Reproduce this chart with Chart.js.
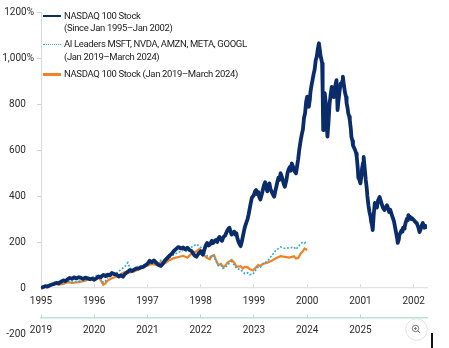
<!DOCTYPE html>
<html>
<head>
<meta charset="utf-8">
<script src="https://cdn.jsdelivr.net/npm/chart.js@4/dist/chart.umd.min.js"></script>
<style>
  html, body { margin: 0; padding: 0; background: #fff; }
  #wrap { position: relative; width: 449px; height: 348px; overflow: hidden; }
  canvas { position: absolute; left: 0; top: 0; }
  .lg { position: absolute; font-family: Roboto, sans-serif; font-size: 9.5px; letter-spacing: -0.35px; color: #222; line-height: 12.5px; white-space: nowrap; }
  .sw { position: absolute; left: 43px; width: 18px; }
  #zoomBtn { position: absolute; left: 405px; top: 318px; }
  #cursor { position: absolute; left: 431px; top: 333px; width: 1.5px; height: 15px; background: #111; }
</style>
</head>
<body>
<div id="wrap">
  <canvas id="c" width="449" height="348"></canvas>
  <div class="sw" style="top:14.5px;height:2.5px;background:#0b2c6b"></div>
  <div class="lg" style="left:64px;top:9.5px">NASDAQ 100 Stock<br>(Since Jan 1995–Jan 2002)</div>
  <div class="sw" style="top:43.5px;height:0;border-top:1.5px dotted #35a9d6"></div>
  <div class="lg" style="left:64px;top:38px">AI Leaders MSFT, NVDA, AMZN, META, GOOGL<br>(Jan 2019–March 2024)</div>
  <div class="sw" style="top:73px;height:2.5px;background:#f28024"></div>
  <div class="lg" style="left:64px;top:68px">NASDAQ 100 Stock (Jan 2019–March 2024)</div>
  <svg id="zoomBtn" width="23" height="23" viewBox="0 0 23 23">
    <circle cx="11.5" cy="11.5" r="10.8" fill="#fff" stroke="#e2e2e2" stroke-width="1"/>
    <circle cx="10.5" cy="10.5" r="3.2" fill="none" stroke="#666" stroke-width="0.9"/>
    <line x1="12.8" y1="12.8" x2="15" y2="15" stroke="#666" stroke-width="1"/>
    <line x1="9" y1="10.5" x2="12" y2="10.5" stroke="#666" stroke-width="0.8"/>
    <line x1="10.5" y1="9" x2="10.5" y2="12" stroke="#666" stroke-width="0.8"/>
  </svg>
  <div id="cursor"></div>
</div>
<script>
// ---- Tick labels ----
const topYears = [1995, 1996, 1997, 1998, 1999, 2000, 2001, 2002];
const bottomYears = [2019, 2020, 2021, 2022, 2023, 2024, 2025];
const yTickValues = [-200, 0, 200, 400, 600, 800, 1000, 1200];
const yTickLabels = ['-200', '0', '200', '400', '600', '800', '1,000%', '1200%'];

// ---- NASDAQ 100, Jan 1995 – early 2002 (cumulative % return) ----
const nasdaqYears = [
  1995.00,1995.04,1995.08,1995.12,1995.17,1995.21,1995.25,1995.29,1995.33,1995.38,1995.42,1995.46,1995.50,1995.54,1995.58,1995.62,1995.67,1995.71,1995.75,1995.79,1995.83,1995.88,1995.92,1995.96,
  1996.00,1996.04,1996.08,1996.12,1996.17,1996.21,1996.25,1996.29,1996.33,1996.38,1996.42,1996.46,1996.50,1996.54,1996.58,1996.63,1996.67,1996.71,1996.75,1996.79,1996.83,1996.88,1996.92,1996.96,
  1997.00,1997.04,1997.08,1997.12,1997.17,1997.21,1997.25,1997.29,1997.33,1997.38,1997.42,1997.46,1997.50,1997.54,1997.58,1997.63,1997.67,1997.71,1997.75,1997.79,1997.83,1997.88,1997.92,1997.96,
  1998.00,1998.02,1998.04,1998.06,1998.08,1998.10,1998.12,1998.15,1998.17,1998.19,1998.21,1998.23,1998.25,1998.27,1998.29,1998.31,1998.33,1998.35,1998.38,1998.40,
  1998.42,1998.44,1998.46,1998.48,1998.50,1998.52,1998.54,1998.56,1998.58,1998.60,1998.63,1998.65,1998.67,1998.69,1998.71,1998.73,1998.75,1998.77,1998.79,1998.81,
  1998.83,1998.85,1998.88,1998.90,1998.92,1998.94,1998.96,1998.98,
  1999.00,1999.02,1999.04,1999.06,1999.08,1999.10,1999.12,1999.15,1999.17,1999.19,1999.21,1999.23,1999.25,1999.27,1999.29,1999.31,1999.33,1999.36,1999.38,1999.40,
  1999.42,1999.44,1999.46,1999.48,1999.50,1999.52,1999.54,1999.56,1999.58,1999.61,1999.63,1999.65,1999.67,1999.69,1999.71,1999.73,1999.75,1999.77,1999.79,1999.81,
  1999.83,1999.85,1999.88,1999.90,1999.92,1999.94,1999.96,1999.98,
  2000.00,2000.02,2000.03,2000.05,2000.06,2000.08,2000.10,2000.12,2000.14,2000.16,2000.18,2000.20,2000.22,2000.24,2000.25,2000.27,2000.28,2000.29,2000.30,2000.31,
  2000.33,2000.35,2000.36,2000.37,2000.38,2000.40,2000.42,2000.44,2000.46,2000.48,2000.50,2000.52,2000.55,2000.56,2000.57,2000.59,2000.61,2000.63,2000.64,2000.66,
  2000.67,2000.69,2000.71,2000.73,2000.74,2000.76,2000.77,2000.79,2000.80,2000.82,2000.83,2000.85,2000.86,2000.88,2000.90,2000.92,2000.93,2000.95,2000.96,2000.98,
  2001.00,2001.02,2001.03,2001.05,2001.06,2001.08,2001.10,2001.12,2001.13,2001.15,2001.17,2001.19,2001.20,2001.22,2001.23,2001.25,2001.27,2001.29,2001.31,2001.33,
  2001.36,2001.38,2001.40,2001.42,2001.45,2001.47,2001.50,2001.52,2001.54,2001.56,2001.58,2001.60,2001.63,2001.65,2001.67,2001.69,2001.70,2001.72,2001.73,2001.75,
  2001.77,2001.79,2001.80,2001.82,2001.83,2001.85,2001.87,2001.89,2001.90,2001.92,2001.93,2001.95,2001.96,2001.98,
  2002.00,2002.02,2002.03,2002.05,2002.06,2002.08,2002.09,2002.11,2002.13,2002.14,2002.16,2002.17,2002.19,2002.20,2002.22,2002.24
];
const nasdaqPct = [
  0,4,8,6,12,15,18,22,20,28,33,30,38,44,40,46,42,47,44,40,45,42,38,41,
  36,42,50,47,57,52,58,55,65,60,58,50,55,49,62,70,78,74,80,85,84,90,92,98,
  105,118,112,120,108,100,96,106,120,132,142,150,162,170,178,172,176,168,175,165,160,142,136,150,
  160,150,145,160,175,188,196,185,188,198,205,195,200,206,209,200,215,222,210,205,
  218,225,228,240,250,258,262,245,232,240,245,232,238,215,200,190,182,200,222,245,
  265,280,300,320,345,370,392,398,
  405,420,426,408,418,395,385,410,430,448,460,438,420,440,455,430,420,405,397,420,
  440,462,480,470,499,485,470,452,440,470,500,515,525,510,542,530,515,505,499,530,
  560,600,645,670,690,740,760,810,
  832,810,788,820,850,880,904,930,950,990,1006,1040,1064,1030,1010,990,977,860,687,760,
  847,800,760,700,658,720,800,840,874,850,830,870,904,850,774,820,860,890,880,900,
  919,880,850,830,804,780,760,745,730,690,658,640,620,610,600,585,570,520,480,470,
  455,490,520,545,570,520,470,430,400,360,330,310,290,270,252,320,370,355,350,380,
  396,380,365,350,339,350,360,345,330,340,325,310,290,265,240,215,196,210,230,240,
  250,245,262,258,265,285,300,295,317,305,310,300,305,300,
  296,290,288,282,280,268,262,243,255,265,278,283,270,262,270,257
];

// ---- Jan 2019 – March 2024 (cumulative % return) ----
const recentYears = [
  2019.00,2019.08,2019.17,2019.25,2019.33,2019.42,2019.50,2019.58,2019.67,2019.75,2019.83,2019.92,
  2020.00,2020.08,2020.12,2020.17,2020.21,2020.25,2020.33,2020.42,2020.50,2020.58,2020.63,2020.67,2020.75,2020.83,2020.92,
  2021.00,2021.08,2021.17,2021.25,2021.33,2021.42,2021.50,2021.58,2021.67,2021.75,2021.83,2021.92,2021.98,
  2022.04,2022.08,2022.12,2022.17,2022.21,2022.25,2022.29,2022.33,2022.38,2022.42,2022.46,2022.50,2022.58,2022.63,2022.67,2022.75,2022.79,2022.83,2022.88,2022.92,2022.98,
  2023.04,2023.08,2023.12,2023.17,2023.25,2023.33,2023.42,2023.50,2023.58,2023.67,2023.75,2023.79,2023.83,2023.88,2023.92,2023.95,2024.00
];
const aiLeadersPct = [
  0,10,16,25,18,22,30,26,28,30,34,42,
  50,58,45,24,30,45,55,65,80,95,110,85,82,92,100,
  106,112,108,120,118,135,145,155,165,160,178,190,182,
  170,150,140,135,142,138,115,98,100,85,88,100,115,100,85,80,70,62,66,58,60,
  80,92,90,105,115,140,165,178,172,175,178,168,180,192,200,196,202
];
const ndxRecentPct = [
  0,8,12,20,15,18,25,22,24,28,32,38,
  42,45,35,14,20,32,42,50,60,70,69,68,72,80,92,
  98,105,100,112,108,122,130,135,140,132,150,160,170,
  150,138,130,125,140,143,120,100,105,92,95,110,122,110,92,95,85,92,90,82,76,
  90,100,96,105,110,118,130,138,135,132,138,128,130,150,160,172,165
];

const toXY = (xs, ys) => xs.map((x, i) => ({ x, y: ys[i] }));

const yBorder = {
  id: 'yBorder',
  beforeDatasetsDraw(chart) {
    const { ctx, chartArea, scales } = chart;
    const x = Math.round(chartArea.left) + 0.5;
    ctx.save();
    ctx.strokeStyle = '#d9d9d9';
    ctx.lineWidth = 1;
    ctx.beginPath();
    ctx.moveTo(x, scales.y.getPixelForValue(1200));
    ctx.lineTo(x, scales.y.getPixelForValue(0));
    ctx.stroke();
    ctx.restore();
  }
};

const tickFont = { family: 'Roboto, sans-serif', size: 10 };

new Chart(document.getElementById('c'), {
  type: 'line',
  data: {
    datasets: [
      { label: 'NASDAQ 100 Stock (Since Jan 1995–Jan 2002)', data: toXY(nasdaqYears, nasdaqPct), xAxisID: 'x', yAxisID: 'y',
        borderColor: '#0b2c6b', borderWidth: 3.8, pointRadius: 0, tension: 0, borderJoinStyle: 'round', order: 0 },
      { label: 'AI Leaders MSFT, NVDA, AMZN, META, GOOGL (Jan 2019–March 2024)', data: toXY(recentYears, aiLeadersPct), xAxisID: 'x2', yAxisID: 'y',
        borderColor: '#35a9d6', borderWidth: 1.7, borderDash: [1.8, 1.8], pointRadius: 0, tension: 0, order: 1 },
      { label: 'NASDAQ 100 Stock (Jan 2019–March 2024)', data: toXY(recentYears, ndxRecentPct), xAxisID: 'x2', yAxisID: 'y',
        borderColor: '#f28024', borderWidth: 2.2, pointRadius: 0, tension: 0, order: 2 }
    ]
  },
  options: {
    responsive: false,
    animation: false,
    events: [],
    layout: { padding: { left: 0, right: 22, top: 12, bottom: 14 } },
    plugins: { legend: { display: false }, tooltip: { enabled: false } },
    scales: {
      y: {
        type: 'linear', position: 'left', min: -200, max: 1200,
        afterFit: (s) => { s.width = 41; },
        afterBuildTicks: (s) => { s.ticks = yTickValues.map(v => ({ value: v })); },
        ticks: {
          color: '#2a2a2a', font: tickFont, padding: 3,
          callback: (v, i) => { const l = yTickLabels[i]; return l.includes('%') ? l : l + '\u2007 '; }
        },
        grid: { drawOnChartArea: false, drawTicks: true, tickLength: 4,
          color: (c) => (c.tick && (c.tick.value === -200 || c.tick.value === 0)) ? 'rgba(0,0,0,0)' : '#d0d0d0' },
        border: { display: false }
      },
      x: {
        type: 'linear', position: { y: 0 }, min: 1995, max: 2002.25,
        afterBuildTicks: (s) => { s.ticks = topYears.map(v => ({ value: v })); },
        ticks: { color: '#2a2a2a', font: tickFont, padding: 11, maxRotation: 0, autoSkip: false, callback: (v) => String(v) },
        grid: { drawOnChartArea: false, drawTicks: true, tickLength: -4, color: '#dadada' },
        border: { display: true, color: '#e2e2e2', width: 1.2 }
      },
      x2: {
        type: 'linear', position: { y: -128 }, min: 2019, max: 2026.25,
        afterBuildTicks: (s) => { s.ticks = bottomYears.map(v => ({ value: v })); },
        ticks: { color: '#2a2a2a', font: tickFont, padding: 11.5, maxRotation: 0, autoSkip: false, callback: (v) => String(v) },
        grid: { drawOnChartArea: false, drawTicks: true, tickLength: -4, color: '#a8dccf' },
        border: { display: true, color: '#b7e3d8', width: 1.5 }
      }
    }
  },
  plugins: [yBorder]
});
</script>
</body>
</html>
